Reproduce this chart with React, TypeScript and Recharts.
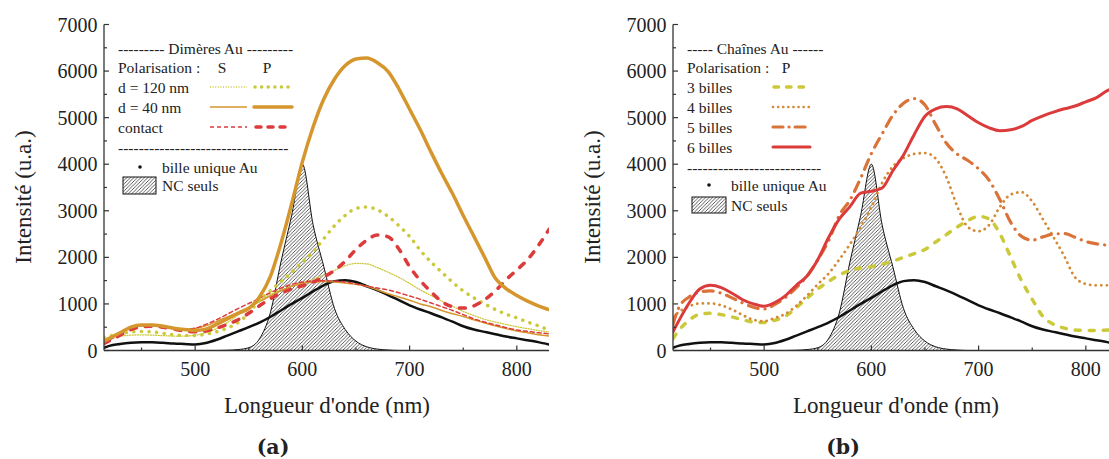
import React from 'react';
import { ComposedChart, Line, Area, XAxis, YAxis } from 'recharts';

// wavelength (nm)
const wavelength = [415, 420, 430, 440, 450, 460, 470, 480, 490, 500, 510, 520, 530, 540, 550, 560, 570, 580, 590, 600, 610, 620, 630, 640, 650, 660, 670, 680, 690, 700, 710, 720, 730, 740, 750, 760, 770, 780, 790, 800, 810, 820, 830];

// shared by both panels
const singleAu = [60, 100, 140, 165, 175, 175, 165, 150, 140, 130, 160, 230, 320, 410, 500, 600, 720, 860, 1000, 1130, 1270, 1400, 1490, 1510, 1470, 1380, 1290, 1190, 1080, 970, 880, 800, 710, 620, 520, 450, 400, 350, 300, 260, 220, 180, 130];
const ncAlone = [0, 0, 0, 0, 0, 0, 0, 0, 0, 0, 0, 0, 5, 20, 60, 250, 800, 1900, 2900, 4000, 2700, 1800, 900, 450, 200, 80, 30, 10, 0, 0, 0, 0, 0, 0, 0, 0, 0, 0, 0, 0, 0, 0, 0];

// (a) dimères
const d120S = [250, 280, 310, 330, 335, 330, 320, 310, 310, 330, 380, 470, 600, 760, 920, 1080, 1200, 1300, 1380, 1450, 1530, 1620, 1720, 1820, 1870, 1860, 1780, 1680, 1570, 1440, 1300, 1180, 1060, 950, 840, 750, 670, 610, 560, 510, 470, 430, 400];
const d120P = [280, 310, 360, 400, 410, 400, 370, 340, 320, 320, 350, 400, 480, 600, 800, 1080, 1280, 1480, 1680, 1900, 2120, 2400, 2680, 2900, 3050, 3080, 3020, 2880, 2680, 2450, 2150, 1900, 1680, 1470, 1280, 1130, 1000, 880, 780, 700, 610, 530, 440];
const d40S = [200, 260, 380, 500, 550, 550, 520, 480, 450, 470, 530, 620, 720, 820, 930, 1050, 1170, 1280, 1380, 1440, 1470, 1480, 1470, 1450, 1420, 1380, 1300, 1220, 1150, 1080, 1000, 940, 860, 790, 730, 660, 590, 530, 470, 420, 380, 340, 310];
const d40P = [200, 260, 380, 500, 550, 550, 520, 480, 450, 430, 460, 560, 680, 800, 900, 1150, 1580, 2300, 3150, 4050, 4800, 5400, 5830, 6120, 6260, 6280, 6180, 5990, 5620, 5180, 4740, 4260, 3800, 3370, 2900, 2450, 2000, 1550, 1330, 1180, 1060, 960, 880];
const contactS = [150, 220, 350, 480, 530, 530, 510, 470, 450, 480, 560, 660, 780, 900, 1010, 1120, 1240, 1340, 1420, 1470, 1490, 1500, 1490, 1470, 1430, 1380, 1340, 1300, 1240, 1170, 1100, 1020, 940, 860, 770, 680, 610, 550, 490, 440, 410, 380, 360];
const contactP = [150, 210, 330, 450, 510, 520, 500, 460, 420, 400, 420, 480, 560, 660, 800, 960, 1110, 1230, 1320, 1390, 1470, 1580, 1720, 1920, 2170, 2370, 2480, 2440, 2180, 1800, 1500, 1260, 1050, 940, 910, 960, 1090, 1280, 1520, 1730, 1950, 2250, 2600];

// (b) chaînes
const billes3 = [260, 420, 650, 780, 800, 770, 720, 660, 610, 600, 650, 740, 920, 1120, 1320, 1480, 1620, 1720, 1770, 1800, 1850, 1920, 2000, 2080, 2170, 2330, 2490, 2650, 2790, 2880, 2820, 2500, 2000, 1500, 1100, 730, 560, 480, 440, 430, 430, 440, 440];
const billes4 = [720, 820, 950, 1010, 1010, 970, 880, 760, 660, 630, 700, 790, 960, 1180, 1420, 1650, 1950, 2280, 2650, 3080, 3600, 3950, 4130, 4220, 4240, 4120, 3720, 3100, 2650, 2560, 2700, 3090, 3350, 3400, 3200, 2820, 2430, 2020, 1570, 1430, 1400, 1400, 1400];
const billes5 = [560, 900, 1150, 1260, 1280, 1230, 1130, 1020, 930, 890, 990, 1140, 1350, 1600, 1950, 2350, 2900, 3230, 3700, 4230, 4650, 5050, 5310, 5410, 5270, 4850, 4450, 4220, 4080, 3900, 3650, 3230, 2750, 2450, 2370, 2440, 2500, 2510, 2430, 2340, 2290, 2260, 2240];
const billes6 = [400, 620, 1020, 1320, 1400, 1350, 1230, 1090, 1000, 950, 1030, 1180, 1400, 1600, 1950, 2420, 2820, 3090, 3380, 3420, 3490, 3860, 4200, 4640, 5030, 5190, 5240, 5190, 5040, 4890, 4780, 4720, 4740, 4810, 4940, 5040, 5120, 5190, 5250, 5340, 5430, 5580, 5650];

const xTicks = [450, 500, 550, 600, 650, 700, 750, 800];
const yTicks = [0, 500, 1000, 1500, 2000, 2500, 3000, 3500, 4000, 4500, 5000, 5500, 6000, 6500, 7000];

const rows = wavelength.map((w, i) => ({
  w,
  single: singleAu[i],
  nc: ncAlone[i],
  d120S: d120S[i],
  d120P: d120P[i],
  d40S: d40S[i],
  d40P: d40P[i],
  contactS: contactS[i],
  contactP: contactP[i],
  b3: billes3[i],
  b4: billes4[i],
  b5: billes5[i],
  b6: billes6[i],
}));

const SERIF = '"Liberation Serif", "Times New Roman", serif';
const AXIS = '#333';
const TEXT = '#222';
const YELLOW = '#cbc93a';
const GOLD = '#d5962e';
const RED = '#dc3b3b';
const ORANGE_DOT = '#d48a34';
const ORANGE = '#da733a';

const makeXTick = (side: 'top' | 'bottom') => (props: any) => {
  const { x, y, payload } = props;
  const major = payload.value % 100 === 0;
  const len = major ? 5 : 3;
  const dir = side === 'bottom' ? -1 : 1;
  return (
    <g>
      <line x1={x} y1={y} x2={x} y2={y + dir * len} stroke={AXIS} strokeWidth={1.2} />
      {side === 'bottom' && major && (
        <text x={x} y={y + 18} textAnchor="middle" dominantBaseline="central" fontFamily={SERIF} fontSize={20} fill={TEXT}>
          {payload.value}
        </text>
      )}
    </g>
  );
};

const makeYTick = (side: 'left' | 'right') => (props: any) => {
  const { x, y, payload } = props;
  const major = payload.value % 1000 === 0;
  const len = major ? 5 : 3;
  const dir = side === 'left' ? 1 : -1;
  return (
    <g>
      <line x1={x} y1={y} x2={x + dir * len} y2={y} stroke={AXIS} strokeWidth={1.2} />
      {side === 'left' && major && (
        <text x={x - 6.5} y={y} textAnchor="end" dominantBaseline="central" fontFamily={SERIF} fontSize={20} fill={TEXT}>
          {payload.value}
        </text>
      )}
    </g>
  );
};

const line = (key: string, color: string, width: number, dash?: string) => (
  <Line
    key={key}
    type="monotone"
    dataKey={key}
    stroke={color}
    strokeWidth={width}
    strokeDasharray={dash}
    strokeLinecap="round"
    dot={false}
    activeDot={false}
    isAnimationActive={false}
  />
);

const Frame = (id: string) => [
  <defs key="defs">
    <pattern id={id} patternUnits="userSpaceOnUse" width="3.5" height="3.5">
      <rect width="3.5" height="3.5" fill="#fff" />
      <path d="M-1,1 l2,-2 M0,3.5 l3.5,-3.5 M2.5,4.5 l2,-2" stroke="#222" strokeWidth="0.75" />
    </pattern>
  </defs>,
  <XAxis key="xb" xAxisId="b" dataKey="w" type="number" domain={[415, 830]} ticks={xTicks} interval={0} allowDataOverflow
    height={30} tickSize={0} tickMargin={0} tick={makeXTick('bottom')} axisLine={{ stroke: AXIS, strokeWidth: 1.3 }} tickLine={false} />,
  <XAxis key="xt" xAxisId="t" orientation="top" dataKey="w" type="number" domain={[415, 830]} ticks={xTicks} interval={0} allowDataOverflow
    height={0} tickSize={0} tickMargin={0} tick={makeXTick('top')} axisLine={{ stroke: AXIS, strokeWidth: 1.3 }} tickLine={false} />,
  <YAxis key="yl" yAxisId="l" type="number" domain={[0, 7000]} ticks={yTicks} interval={0} allowDataOverflow
    width={104} tickSize={0} tickMargin={0} tick={makeYTick('left')} axisLine={{ stroke: AXIS, strokeWidth: 1.3 }} tickLine={false} />,
  <YAxis key="yr" yAxisId="r" orientation="right" type="number" domain={[0, 7000]} ticks={yTicks} interval={0} allowDataOverflow
    width={0} tickSize={0} tickMargin={0} tick={makeYTick('right')} axisLine={{ stroke: AXIS, strokeWidth: 1.3 }} tickLine={false} />,
];

const ncArea = (id: string) => (
  <Area
    type="monotone"
    dataKey="nc"
    xAxisId="b"
    yAxisId="l"
    stroke="#111"
    strokeWidth={1}
    fill={`url(#${id})`}
    fillOpacity={1}
    dot={false}
    activeDot={false}
    isAnimationActive={false}
  />
);

const withAxes = (el: React.ReactElement) => React.cloneElement(el as any, { xAxisId: 'b', yAxisId: 'l' } as any);

const chartMargin = { top: 24.5, right: 11, bottom: 78.5, left: 0 };

const t = (x: number, y: number, s: string, anchor: 'start' | 'middle' = 'start') => (
  <text x={x} y={y} textAnchor={anchor} dominantBaseline="central" fontFamily={SERIF} fontSize={15.5} fill={TEXT}>
    {s}
  </text>
);

const CAPTION = '"DejaVu Serif", serif';

const Overlay = () => (
  <svg width={1109} height={459} style={{ position: 'absolute', left: 0, top: 0, pointerEvents: 'none' }}>
    <defs>
      <pattern id="hatchL" patternUnits="userSpaceOnUse" width="3.5" height="3.5">
        <rect width="3.5" height="3.5" fill="#fff" />
        <path d="M-1,1 l2,-2 M0,3.5 l3.5,-3.5 M2.5,4.5 l2,-2" stroke="#222" strokeWidth="0.75" />
      </pattern>
    </defs>

    {/* axis titles */}
    <text x={23} y={197} transform="rotate(-90 23 197)" textAnchor="middle" dominantBaseline="central" fontFamily={SERIF} fontSize={23} fill={TEXT}>Intensité (u.a.)</text>
    <text x={592} y={197} transform="rotate(-90 592 197)" textAnchor="middle" dominantBaseline="central" fontFamily={SERIF} fontSize={23} fill={TEXT}>Intensité (u.a.)</text>
    <text x={327} y={405} textAnchor="middle" dominantBaseline="central" fontFamily={SERIF} fontSize={23} fill={TEXT}>Longueur d'onde (nm)</text>
    <text x={896} y={405} textAnchor="middle" dominantBaseline="central" fontFamily={SERIF} fontSize={23} fill={TEXT}>Longueur d'onde (nm)</text>
    <text x={273} y={447} textAnchor="middle" dominantBaseline="central" fontFamily={CAPTION} fontWeight="bold" fontSize={20.5} fill={TEXT}>(a)</text>
    <text x={843} y={447} textAnchor="middle" dominantBaseline="central" fontFamily={CAPTION} fontWeight="bold" fontSize={20.5} fill={TEXT}>(b)</text>

    {/* legend (a) */}
    {t(118, 48, '--------- Dimères Au ---------')}
    {t(118, 67, 'Polarisation :')}
    {t(222, 67, 'S', 'middle')}
    {t(267, 67, 'P', 'middle')}
    {t(118, 87, 'd = 120 nm')}
    {t(118, 107, 'd = 40 nm')}
    {t(118, 127, 'contact')}
    <line x1={210} y1={87} x2={247} y2={87} stroke={YELLOW} strokeWidth={1.3} strokeDasharray="1 1.6" />
    <line x1={255} y1={87} x2={292} y2={87} stroke={YELLOW} strokeWidth={3.5} strokeDasharray="0.1 6.5" strokeLinecap="round" />
    <line x1={210} y1={107} x2={247} y2={107} stroke={GOLD} strokeWidth={1.5} />
    <line x1={254} y1={107} x2={292} y2={107} stroke={GOLD} strokeWidth={3.5} strokeLinecap="round" />
    <line x1={210} y1={127} x2={247} y2={127} stroke={RED} strokeWidth={1.5} strokeDasharray="4 3" />
    <line x1={256} y1={127} x2={291} y2={127} stroke={RED} strokeWidth={3.5} strokeDasharray="5 7" strokeLinecap="round" />
    {t(118, 147, '---------------------------------')}
    <circle cx={140} cy={167} r={1.8} fill="#111" />
    {t(162, 167, 'bille unique Au')}
    <rect x={123} y={177} width={33} height={17} fill="url(#hatchL)" stroke="#111" strokeWidth={1} />
    {t(162, 185.5, 'NC seuls')}

    {/* legend (b) */}
    {t(687, 48, '----- Chaînes Au ------')}
    {t(687, 67, 'Polarisation :')}
    {t(786, 67, 'P', 'middle')}
    {t(687, 87, '3 billes')}
    {t(687, 107, '4 billes')}
    {t(687, 127, '5 billes')}
    {t(687, 147, '6 billes')}
    <line x1={774} y1={87} x2={808} y2={87} stroke={YELLOW} strokeWidth={3.5} strokeDasharray="4.5 8" strokeLinecap="round" />
    <line x1={773} y1={107} x2={810} y2={107} stroke={ORANGE_DOT} strokeWidth={2.6} strokeDasharray="0.1 5" strokeLinecap="round" />
    <line x1={773} y1={127} x2={806} y2={127} stroke={ORANGE} strokeWidth={3.2} strokeDasharray="10 6 0.1 6" strokeLinecap="round" />
    <line x1={773} y1={147} x2={810} y2={147} stroke={RED} strokeWidth={3} strokeLinecap="round" />
    {t(687, 167, '--------------------------')}
    <circle cx={709} cy={185} r={1.8} fill="#111" />
    {t(731, 185, 'bille unique Au')}
    <rect x={692} y={197} width={34} height={16} fill="url(#hatchL)" stroke="#111" strokeWidth={1} />
    {t(731, 205, 'NC seuls')}
  </svg>
);

const App = () => (
  <div style={{ position: 'fixed', left: 0, top: 0, width: 1109, height: 459, overflow: 'hidden', background: '#fff' }}>
    <div style={{ position: 'absolute', left: 0, top: 0 }}>
      <ComposedChart width={560} height={459} data={rows} margin={chartMargin}>
        {Frame('hatchA')}
        {ncArea('hatchA')}
        {withAxes(line('single', '#111', 2.5))}
        {withAxes(line('d120S', YELLOW, 1.3, '1 1.6'))}
        {withAxes(line('d40S', GOLD, 1.5))}
        {withAxes(line('contactS', RED, 1.5, '4 3'))}
        {withAxes(line('d120P', YELLOW, 3.5, '0.1 7.5'))}
        {withAxes(line('contactP', RED, 3.5, '6 9'))}
        {withAxes(line('d40P', GOLD, 3.5))}
      </ComposedChart>
    </div>
    <div style={{ position: 'absolute', left: 569, top: 0 }}>
      <ComposedChart width={560} height={459} data={rows} margin={chartMargin}>
        {Frame('hatchB')}
        {ncArea('hatchB')}
        {withAxes(line('single', '#111', 2.5))}
        {withAxes(line('b3', YELLOW, 3.5, '5 9'))}
        {withAxes(line('b4', ORANGE_DOT, 2.8, '0.1 5.5'))}
        {withAxes(line('b5', ORANGE, 3.2, '10 7 0.1 7'))}
        {withAxes(line('b6', RED, 3))}
      </ComposedChart>
    </div>
    <Overlay />
  </div>
);

export default App;
